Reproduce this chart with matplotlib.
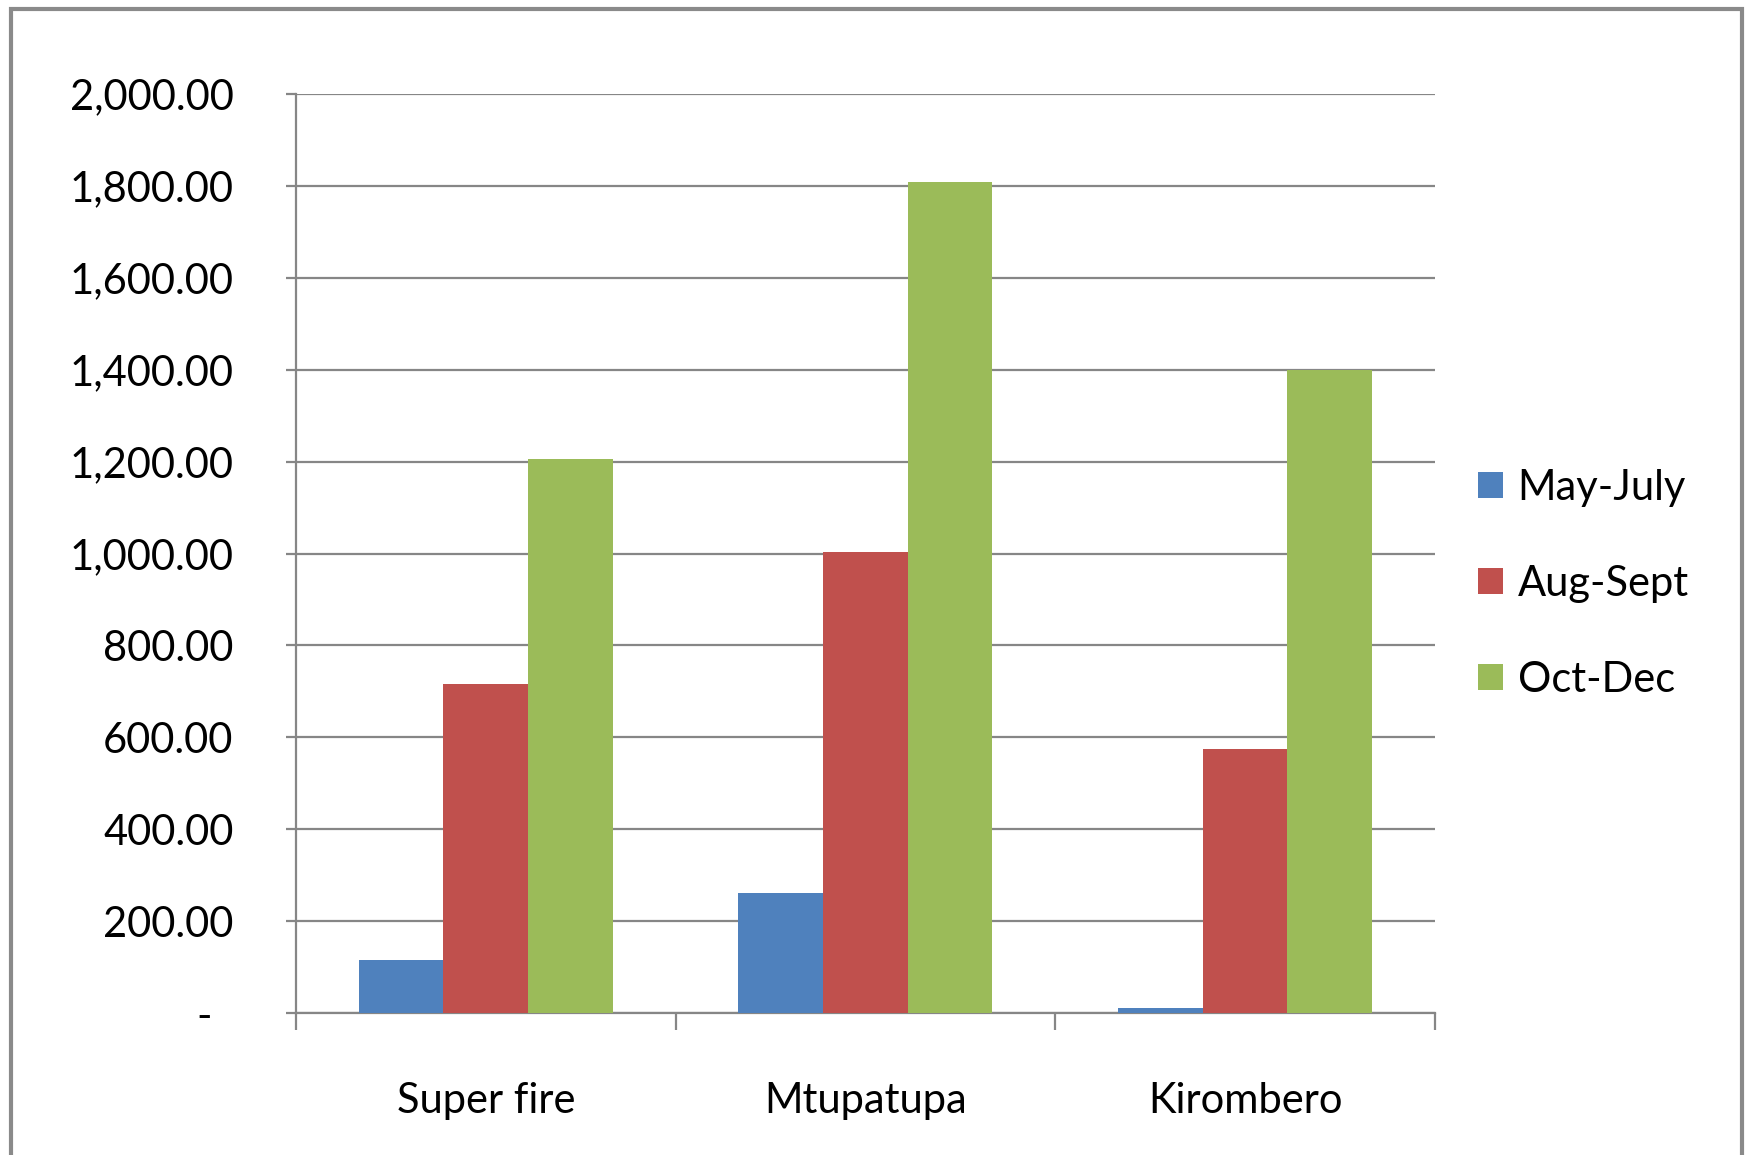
import numpy as np
import matplotlib
matplotlib.use('Agg')
import matplotlib.pyplot as plt
from matplotlib.patches import Rectangle
from matplotlib.ticker import FuncFormatter

categories = ['Super fire', 'Mtupatupa', 'Kirombero']
series = ['May-July', 'Aug-Sept', 'Oct-Dec']
may_july = [115, 262, 12]
aug_sept = [715, 1003, 575]
oct_dec = [1205, 1808, 1400]
colors = ['#4F81BD', '#C0504D', '#9BBB59']

plt.rcParams['font.family'] = ['Lato', 'DejaVu Sans']
grey = '#868686'

fig = plt.figure(figsize=(17.51, 11.55), dpi=100)
ax = fig.add_axes([0.169, 0.1229, 0.6505, 0.7957])

x = np.arange(len(categories))
w = 0.223
for i, (vals, name) in enumerate(zip([may_july, aug_sept, oct_dec], series)):
    ax.bar(x + (i - 1) * w, vals, w, color=colors[i], label=name, zorder=3)

ax.set_xlim(-0.5, 2.5)
ax.set_ylim(0, 2000)
ax.set_yticks(np.arange(0, 2001, 200))
ax.yaxis.set_major_formatter(FuncFormatter(lambda v, p: '-  ' if v == 0 else f'{v:,.2f}'))
ax.grid(axis='y', color=grey, lw=1.6, zorder=0)

ax.set_xticks(x)
ax.set_xticklabels(categories)
ax.set_xticks([-0.5, 0.5, 1.5, 2.5], minor=True)
ax.tick_params(axis='x', which='major', length=0, pad=50, labelsize=30)
ax.tick_params(axis='x', which='minor', length=12, width=1.6, color=grey)
ax.tick_params(axis='y', length=7, width=1.6, color=grey, pad=38, labelsize=30)

for s in ['top', 'right']:
    ax.spines[s].set_visible(False)
for s in ['left', 'bottom']:
    ax.spines[s].set_color(grey)
    ax.spines[s].set_linewidth(1.6)

ax.legend(loc='center left', bbox_to_anchor=(1.005, 0.467), frameon=False, fontsize=30,
          handlelength=0.6, handleheight=0.6, handletextpad=0.35, labelspacing=1.39)

# outer chart frame
fig.patches.append(Rectangle((11 / 1751, -0.05), 1731 / 1751, 1.05 - 9 / 1155,
                             transform=fig.transFigure, fill=False, ec='#8a8a8a', lw=3))

fig.savefig('out.png', dpi=100)
